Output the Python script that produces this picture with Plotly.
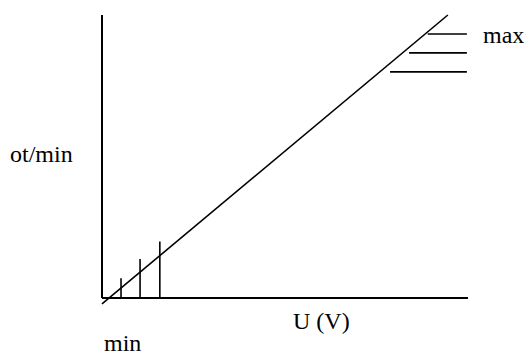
import plotly.graph_objects as go

# axes of the sketch (arbitrary units: U in volts, n in ot/min)
axis_u = [0, 10, None, 0, 0]
axis_n = [0, 0, None, 0, 10]

# characteristic line
line_u = [0.0, 9.45]
line_n = [-0.21, 10.0]

# start-up steps near the origin (vertical ticks)
min_u = [0.52, 1.04, 1.58]
min_top = [0.7, 1.38, 2.0]

# saturation steps near the top (horizontal ticks)
max_n = [9.33, 8.66, 7.99]
max_start = [8.9, 8.39, 7.87]
max_end = 9.97

labels = ["ot/min", "U (V)", "min", "max"]
label_u = [-1.64, 6.01, 0.57, 10.96]
label_n = [5.09, -0.80, -1.60, 9.29]

FONT = "Liberation Serif, Times New Roman, serif"

fig = go.Figure()
fig.add_trace(go.Scatter(x=axis_u, y=axis_n, mode="lines",
                         line={"color": "black", "width": 2}))
fig.add_trace(go.Scatter(x=line_u, y=line_n, mode="lines",
                         line={"color": "black", "width": 1.6}))

vx, vy = [], []
for u, top in zip(min_u, min_top):
    vx += [u, u, None]
    vy += [0, top, None]
fig.add_trace(go.Scatter(x=vx, y=vy, mode="lines",
                         line={"color": "black", "width": 1.6}))

hx, hy = [], []
for n, start in zip(max_n, max_start):
    hx += [start, max_end, None]
    hy += [n, n, None]
fig.add_trace(go.Scatter(x=hx, y=hy, mode="lines",
                         line={"color": "black", "width": 1.6}))

for text, u, n in zip(labels, label_u, label_n):
    fig.add_annotation(x=u, y=n, text=text, showarrow=False,
                       xanchor="center", yanchor="middle", borderpad=0,
                       font={"family": FONT, "size": 24, "color": "black"})

fig.update_layout(
    width=526,
    height=358,
    margin={"l": 0, "r": 0, "t": 0, "b": 0},
    plot_bgcolor="white",
    paper_bgcolor="white",
    showlegend=False,
    xaxis={"range": [-2.787, 11.585], "visible": False, "fixedrange": True},
    yaxis={"range": [-2.120, 10.530], "visible": False, "fixedrange": True},
)
# drop the browser's default body margin so the figure sits at 0,0
fig.write_html("out.html", config={"displayModeBar": False},
               post_script="document.body.style.margin='0';")
